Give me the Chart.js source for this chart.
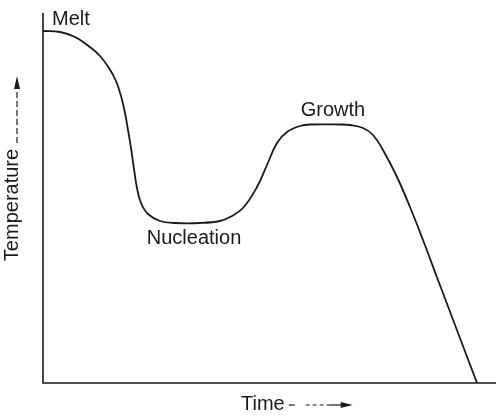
<!DOCTYPE html>
<html>
<head>
<meta charset="utf-8">
<script src="https://cdn.jsdelivr.net/npm/chart.js@4/dist/chart.umd.min.js"></script>
<style>
  html, body { margin: 0; padding: 0; background: #fff; }
  #wrap { width: 496px; height: 416px; position: relative; }
</style>
</head>
<body>
<div id="wrap"><canvas id="c"></canvas></div>
<script>
// curve (arbitrary time / temperature units)
const timeVals = [0, 17, 32, 47, 57, 66, 73, 78, 82, 85, 88, 91, 94, 98, 105, 117, 132, 157, 177, 187, 200, 214, 224, 234, 244, 257, 267, 297, 307, 320, 330, 340, 354, 367, 380, 395, 434];
const tempVals = [352, 351, 346, 336, 327, 315, 302, 287, 270, 253, 235, 214, 195, 180, 169, 162, 160, 160, 162, 166, 175, 196, 218, 240, 251, 257, 258.5, 258.5, 258, 255, 248, 233, 206, 176, 143, 103, 0];
const stageNames = ['Melt', 'Nucleation', 'Growth'];
const xTitle = 'Time';
const yTitle = 'Temperature';

// where each stage label sits (data units) and how it is anchored
const stageSpots = [
  { x: 9, y: 364, align: 'left' },
  { x: 151, y: 145, align: 'center' },
  { x: 290, y: 273, align: 'center' },
];

const INK = '#1a1a1a';
const FONT = '20px "Liberation Sans", Arial, sans-serif';

const schematicPlugin = {
  id: 'schematic',
  afterDraw(chart) {
    const { ctx, chartArea: a, scales: { x, y } } = chart;
    ctx.save();
    // axes
    ctx.strokeStyle = INK; ctx.lineWidth = 1.6;
    ctx.beginPath();
    ctx.moveTo(a.left, a.top); ctx.lineTo(a.left, a.bottom); ctx.lineTo(a.right, a.bottom);
    ctx.stroke();

    // stage labels
    ctx.fillStyle = INK; ctx.font = FONT; ctx.textBaseline = 'middle';
    stageNames.forEach((s, i) => {
      const p = stageSpots[i];
      ctx.textAlign = p.align;
      ctx.fillText(s, x.getPixelForValue(p.x), y.getPixelForValue(p.y));
    });

    // x title + dashed arrow
    ctx.textAlign = 'left';
    ctx.fillText(xTitle, 241, 404);
    const tw = ctx.measureText(xTitle).width;
    let ax = 241 + tw + 4;
    ctx.lineWidth = 1.2;
    ctx.beginPath(); ctx.moveTo(ax, 405); ctx.lineTo(ax + 6, 405); ctx.stroke();
    ctx.setLineDash([4, 3]);
    ctx.beginPath(); ctx.moveTo(ax + 17, 405); ctx.lineTo(ax + 40, 405); ctx.stroke();
    ctx.setLineDash([]);
    ctx.beginPath(); ctx.moveTo(ax + 40, 405); ctx.lineTo(ax + 54, 405); ctx.stroke();
    ctx.beginPath(); ctx.moveTo(ax + 64, 405); ctx.lineTo(ax + 52, 402); ctx.lineTo(ax + 52, 408); ctx.closePath(); ctx.fill();

    // y title + dashed arrow
    ctx.save();
    ctx.translate(12, 205); ctx.rotate(-Math.PI / 2);
    ctx.textAlign = 'center';
    ctx.fillText(yTitle, 0, 0);
    ctx.restore();
    ctx.lineWidth = 1.2;
    ctx.setLineDash([6, 3]);
    ctx.beginPath(); ctx.moveTo(17, 143); ctx.lineTo(17, 88); ctx.stroke();
    ctx.setLineDash([]);
    ctx.beginPath(); ctx.moveTo(17, 76); ctx.lineTo(14, 89); ctx.lineTo(20, 89); ctx.closePath(); ctx.fill();
    ctx.restore();
  }
};

new Chart(document.getElementById('c'), {
  type: 'line',
  data: {
    labels: timeVals,
    datasets: [{
      data: timeVals.map((t, i) => ({ x: t, y: tempVals[i] })),
      borderColor: INK, borderWidth: 1.8,
      pointRadius: 0, fill: false,
      tension: 0.4,
    }]
  },
  options: {
    responsive: true, maintainAspectRatio: false, animation: false,
    layout: { padding: { left: 43, right: 0, top: 13, bottom: 33 } },
    plugins: { legend: { display: false }, tooltip: { enabled: false } },
    scales: {
      x: { type: 'linear', min: 0, max: 453, display: false },
      y: { min: 0, max: 370, display: false },
    }
  },
  plugins: [schematicPlugin]
});
</script>
</body>
</html>
